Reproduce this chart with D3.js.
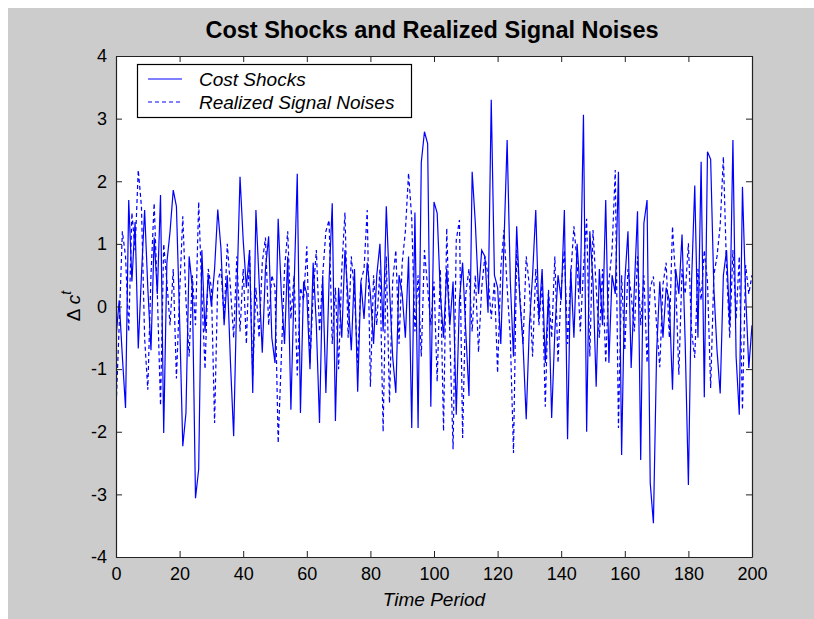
<!DOCTYPE html>
<html>
<head>
<meta charset="utf-8">
<script src="https://cdn.jsdelivr.net/npm/d3@7/dist/d3.min.js"></script>
<style>
  body { margin: 0; background: #fff; }
  text { font-family: "Liberation Sans", Arial, sans-serif; fill: #000; }
</style>
</head>
<body>
<div id="canvas"></div>
<script>
// values, one per time period 0..200
const costShocks = [
  -0.5, 0.1, -0.8, -1.62, 1.7, 0.4, 1.35, -0.67, 0.5, 1.54,
  0.3, -0.7, 1.1, 0.2, 1.78, -2.02, 0.7, 1.2, 1.86, 1.6,
  -0.2, -2.23, -1.7, 0.8, 0.31, -3.06, -2.6, 0.9, -0.4, 0.5,
  0.0, 0.6, 1.55, 0.93, -0.3, 0.5, -0.9, -2.07, 0.2, 2.07,
  1.06, 0.3, 0.9, -1.38, 1.54, 0.4, -0.74, 0.6, 1.12, -0.5,
  -0.9, 1.4, 0.2, -0.6, 0.8, -1.65, 0.3, 2.12, -1.7, 0.4,
  0.2, -1.0, 0.7, -0.3, -1.86, 0.5, -1.38, 0.4, 1.65, -1.83,
  0.3, -0.5, 0.9, 0.1, -0.7, 0.6, -1.36, 0.4, -0.2, 0.7,
  0.2, -0.6, 0.5, 1.0, -0.4, 1.6, 0.3, -0.8, -1.38, 0.5,
  0.2, -0.5, 0.8, -1.94, 1.5, -1.94, 2.3, 2.79, 2.6, -1.6,
  1.67, 1.49, 0.2, -0.5, 0.6, -0.3, 0.4, -1.73, 0.1, 0.7,
  -0.4, -1.43, 2.15, 1.33, 0.2, 0.9, 0.8, -0.1, 3.3, 0.5,
  0.3, -0.6, 1.0, 2.66, 0.4, -0.8, 1.28, 0.1, -0.6, -1.8,
  -0.3, 0.5, 1.54, -0.2, 0.6, -0.9, 0.2, -1.78, -0.4, 0.5,
  0.1, 1.54, -2.12, 0.6, -0.5, 1.0, 0.2, 3.06, -2.0, 1.2,
  0.4, -1.28, 0.6, -0.3, 1.7, -0.9, 0.5, 0.2, 2.15, -2.37,
  0.4, 1.2, -0.98, 0.3, 1.52, -2.45, 1.33, 1.7, -2.82, -3.46,
  -0.74, 0.4, -0.5, 0.3, 0.1, -1.33, 0.6, 0.2, 1.15, -0.6,
  -2.85, 0.4, 1.93, -0.5, 2.31, -1.45, 2.47, 2.35, 0.3, -0.7,
  -1.39, 0.5, 0.9, -0.3, 2.66, -0.8, -1.73, 1.91, 0.2, -0.98,
  -0.3
];
const signalNoises = [
  -1.65, -0.3, 1.2, 0.8, -0.4, 1.5, 0.9, 2.18, 1.6, -0.5,
  -1.33, 0.5, 1.65, 0.2, -1.58, 1.0, 0.4, -0.3, 0.6, -1.15,
  0.2, 1.44, 0.1, -0.8, 0.5, -0.3, 1.67, 0.2, -1.0, 0.6,
  0.3, -1.86, 0.4, 0.6, -0.2, 1.0, 0.3, -0.5, 0.8, -0.4,
  0.6, -0.6, 0.9, -1.1, 0.3, -0.5, 0.7, 1.1, -0.3, 0.5,
  0.3, -2.18, -0.8, 0.6, 1.2, -0.2, 0.5, -1.1, 0.3, 0.1,
  0.96, -0.9, 0.2, 0.9, -0.4, 0.5, 1.2, 1.38, -0.6, 0.3,
  -1.0, 0.6, 1.5, -0.5, 0.8, 0.2, -0.9, 0.4, 0.6, 1.54,
  -1.28, 0.5, -0.3, 0.6, -2.0, 0.8, -1.54, 0.4, 0.9, -0.6,
  0.7, 1.2, 2.13, 1.4, -0.4, 0.5, -0.8, 0.9, 0.3, -0.3,
  0.4, -1.2, 0.6, -1.99, 1.25, -0.5, -2.28, 1.06, 1.38, -2.1,
  0.2, 0.6, -0.4, 0.5, -0.73, 0.3, 0.8, 0.5, -0.2, 0.4,
  -1.06, 0.6, 1.22, 0.3, -0.5, -2.34, 0.9, 0.2, -0.6, 0.8,
  0.32, -0.8, 0.6, -0.3, 0.4, -1.6, 0.27, -0.5, 0.8, -0.9,
  0.3, 0.9, -0.6, 0.5, 1.28, 0.7, -0.4, 0.6, 1.4, -0.8,
  1.22, 0.3, -0.5, 0.6, -0.9, 0.4, 0.9, 2.18, -1.94, 0.5,
  -0.7, 0.6, 0.2, -0.4, 0.8, -0.3, 0.5, -0.9, 0.3, 0.48,
  -0.3, -0.97, 0.35, 0.7, -0.5, 1.28, 0.4, -1.09, 0.6, 0.2,
  1.01, -0.4, -0.82, 0.6, 0.1, 0.9, 0.4, -1.3, 0.5, 0.8,
  1.3, 2.39, 0.6, -0.5, 0.9, -0.2, 0.8, -1.65, 0.66, 0.2,
  0.5
];
const xTicks = [0, 20, 40, 60, 80, 100, 120, 140, 160, 180, 200];
const yTicks = [-4, -3, -2, -1, 0, 1, 2, 3, 4];
const seriesNames = ["Cost Shocks", "Realized Signal Noises"];

const width = 814, height = 619;
const box = { left: 116, top: 56, right: 752, bottom: 557 };

const svg = d3.select("#canvas").append("svg")
  .attr("width", width)
  .attr("height", height);

// grey figure background with a thin white border at top/left
svg.append("rect").attr("x", 8).attr("y", 8)
  .attr("width", width - 8).attr("height", height - 8)
  .attr("fill", "#cccccc");

const x = d3.scaleLinear().domain([0, 200]).range([box.left, box.right]);
const y = d3.scaleLinear().domain([-4, 4]).range([box.bottom, box.top]);

svg.append("rect")
  .attr("x", box.left).attr("y", box.top)
  .attr("width", box.right - box.left).attr("height", box.bottom - box.top)
  .attr("fill", "#fff");

svg.append("defs").append("clipPath").attr("id", "clip")
  .append("rect")
  .attr("x", box.left).attr("y", box.top)
  .attr("width", box.right - box.left).attr("height", box.bottom - box.top);

const line = d3.line().x((d, i) => x(i)).y(d => y(d));

const plot = svg.append("g").attr("clip-path", "url(#clip)");
plot.append("path").datum(costShocks)
  .attr("d", line).attr("fill", "none")
  .attr("stroke", "#0000ff").attr("stroke-width", 1.2);
plot.append("path").datum(signalNoises)
  .attr("d", line).attr("fill", "none")
  .attr("stroke", "#0000ff").attr("stroke-width", 1.2)
  .attr("stroke-dasharray", "4,3");

// axes, ticks point inwards on all four sides; plain hyphen for negatives
const fmt = d => String(d);
const styleAxis = g => {
  g.select(".domain").attr("stroke", "#222").attr("stroke-width", 1.2);
  g.selectAll(".tick line").attr("stroke", "#222");
  g.selectAll(".tick text").attr("font-size", 18)
    .attr("font-family", "'Liberation Sans', Arial, sans-serif").attr("fill", "#000");
};

svg.append("g")
  .attr("transform", `translate(0,${box.bottom})`)
  .call(d3.axisBottom(x).tickValues(xTicks).tickFormat(fmt).tickSize(-6).tickPadding(10).tickSizeOuter(0))
  .call(styleAxis);

svg.append("g")
  .attr("transform", `translate(${box.left},0)`)
  .call(d3.axisLeft(y).tickValues(yTicks).tickFormat(fmt).tickSize(-6).tickPadding(9).tickSizeOuter(0))
  .call(styleAxis);

svg.append("g")
  .attr("transform", `translate(0,${box.top})`)
  .call(d3.axisTop(x).tickValues(xTicks).tickSize(-6).tickFormat("").tickSizeOuter(0))
  .call(styleAxis);

svg.append("g")
  .attr("transform", `translate(${box.right},0)`)
  .call(d3.axisRight(y).tickValues(yTicks).tickSize(-6).tickFormat("").tickSizeOuter(0))
  .call(styleAxis);

// title and axis labels
svg.append("text")
  .attr("x", 432).attr("y", 38)
  .attr("text-anchor", "middle")
  .attr("font-size", 23.5).attr("font-weight", "bold")
  .text("Cost Shocks and Realized Signal Noises");

svg.append("text")
  .attr("x", (box.left + box.right) / 2).attr("y", 606)
  .attr("text-anchor", "middle")
  .attr("font-size", 19).attr("font-style", "italic")
  .text("Time Period");

const ylab = svg.append("text")
  .attr("transform", "translate(80,306) rotate(-90)")
  .attr("text-anchor", "middle")
  .attr("font-size", 19);
ylab.append("tspan").text("\u0394 ");
ylab.append("tspan").attr("font-style", "italic").text("c");
ylab.append("tspan").attr("font-style", "italic").attr("font-size", 14).attr("dy", -9).text("t");

// legend
const legend = svg.append("g");
legend.append("rect")
  .attr("x", 137.5).attr("y", 64.5).attr("width", 274).attr("height", 53)
  .attr("fill", "#fff").attr("stroke", "#000").attr("stroke-width", 1.2);

const rows = legend.selectAll(".row").data(seriesNames).enter().append("g")
  .attr("transform", (d, i) => `translate(0,${79 + i * 23})`);
rows.append("line")
  .attr("x1", 148).attr("x2", 182).attr("y1", 0).attr("y2", 0)
  .attr("stroke", "#0000ff").attr("stroke-width", 1.2)
  .attr("stroke-dasharray", (d, i) => i ? "4,3" : null);
rows.append("text")
  .attr("x", 199).attr("y", 7)
  .attr("font-size", 19).attr("font-style", "italic")
  .text(d => d);
</script>
</body>
</html>
